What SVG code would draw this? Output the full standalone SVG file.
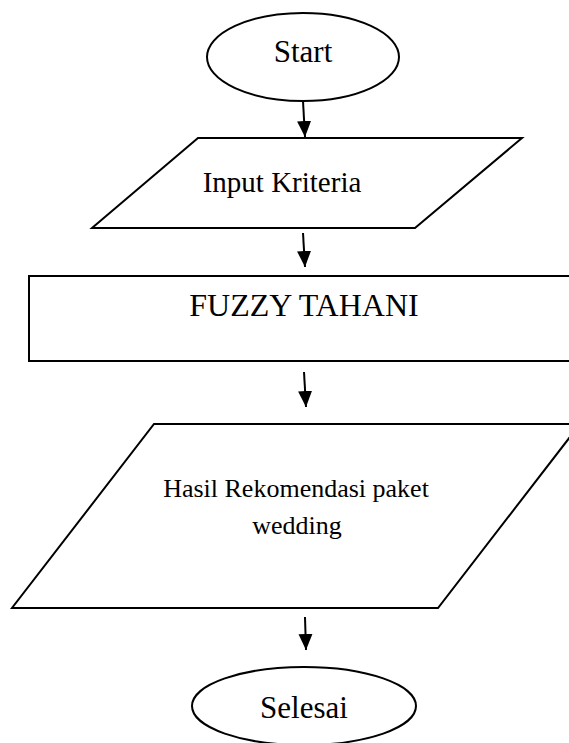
<svg xmlns="http://www.w3.org/2000/svg" width="569" height="743" viewBox="0 0 569 743">
<style>
.shape{fill:#fff;stroke:#000;stroke-width:2}
.lbl{font-family:"Liberation Serif","Times New Roman",serif;fill:#000;text-anchor:middle}
.conn{stroke:#000;stroke-width:2;fill:none;marker-end:url(#ah)}
</style>
<defs>
<marker id="ah" markerUnits="userSpaceOnUse" markerWidth="18" markerHeight="16" refX="16" refY="7" orient="auto">
<path d="M0,0 L16,7 L0,14 z" fill="#000"/>
</marker>
</defs>
<rect width="569" height="743" fill="#fff"/>
<g id="start">
<ellipse class="shape" cx="303" cy="57" rx="96" ry="44"/>
<text class="lbl" x="303" y="62" font-size="31">Start</text>
</g>
<g id="input">
<polygon class="shape" points="198,138 522,138 415,228 92,228"/>
<text class="lbl" x="282" y="192" font-size="29">Input Kriteria</text>
</g>
<g id="fuzzy">
<rect class="shape" x="29" y="276" width="545" height="85"/>
<text class="lbl" x="304" y="316" font-size="32">FUZZY TAHANI</text>
</g>
<g id="hasil">
<polygon class="shape" points="154,424 580,424 438,608 12,608"/>
<text class="lbl" x="296" y="497" font-size="26">Hasil Rekomendasi paket</text>
<text class="lbl" x="297" y="534" font-size="26">wedding</text>
</g>
<g id="selesai">
<ellipse class="shape" cx="304" cy="706" rx="112" ry="39"/>
<text class="lbl" x="304" y="718" font-size="31">Selesai</text>
</g>
<g id="connectors">
<line class="conn" x1="303" y1="101" x2="305" y2="137"/>
<line class="conn" x1="303" y1="233" x2="305" y2="267"/>
<line class="conn" x1="304" y1="372" x2="306" y2="407"/>
<line class="conn" x1="305" y1="617" x2="306" y2="650"/>
</g>
</svg>
